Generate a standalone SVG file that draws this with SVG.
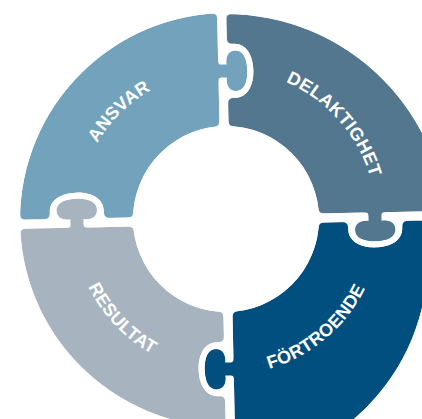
<svg xmlns="http://www.w3.org/2000/svg" xmlns:xlink="http://www.w3.org/1999/xlink" width="422" height="419" viewBox="0 0 422 419">
  <style>
    .lbl { font-family: "Liberation Sans", Arial, sans-serif; font-weight: bold; font-size: 18px; letter-spacing: 0.3px; fill: #ffffff; }
  </style>
  <defs>
    <filter id="soft" filterUnits="userSpaceOnUse" x="-30" y="-30" width="490" height="490">
      <feGaussianBlur in="SourceAlpha" stdDeviation="2.8" result="b"/>
      <feComponentTransfer in="b" result="t">
        <feFuncA type="linear" slope="6" intercept="-2.5"/>
      </feComponentTransfer>
      <feComposite in="SourceGraphic" in2="t" operator="in"/>
    </filter>
    <clipPath id="clipLeft">
      <path clip-rule="evenodd" d="M20 220 a207 207 0 1 0 414 0 a207 207 0 1 0 -414 0 Z M133 219 a93 93 0 1 0 186 0 a93 93 0 1 0 -186 0 Z"/>
    </clipPath>
    <clipPath id="clipTR">
      <path clip-rule="evenodd" d="M5 235 a221 221 0 1 0 442 0 a221 221 0 1 0 -442 0 Z M133 219 a93 93 0 1 0 186 0 a93 93 0 1 0 -186 0 Z"/>
    </clipPath>
    <clipPath id="clipBR">
      <path clip-rule="evenodd" d="M4 258 a212 212 0 1 0 424 0 a212 212 0 1 0 -424 0 Z M133 219 a93 93 0 1 0 186 0 a93 93 0 1 0 -186 0 Z"/>
    </clipPath>
    <path id="piece" d="M-4.5 -40 L-4.5 -139.5 A3 3 0 0 1 -1.5 -142.5 L4 -142.5 C2.5 -135 5 -128.5 13 -128.5 C21 -128.5 24.5 -137 24.5 -149 C24.5 -161 21 -169.5 13 -169.5 C5 -169.5 2.5 -163 4 -155.5 L-1.5 -155.5 A3 3 0 0 1 -4.5 -158.5 L-4.5 -260 L-260 -260 L-260 -4.5 L-179 -4.5 A3 3 0 0 0 -176 -7.5 L-176 -12 C-176 -24 -164 -30.5 -149 -30.5 C-134 -30.5 -122 -24 -122 -12 L-122 -7.5 A3 3 0 0 0 -119 -4.5 L-4.5 -4.5 Z"/>
    <path id="arcAnsvar" d="M80.8 257.8 A150 150 0 0 1 265.8 75.4"/>
    <path id="arcDelak" d="M196 72.6 A150.4 150.4 0 0 1 368.6 267.7"/>
    <path id="arcResultat" d="M79.3 176.5 A153 153 0 0 0 261.7 368.8"/>
    <path id="arcFortroende" d="M173.2 365.7 A155 155 0 0 0 378.6 192.8"/>
  </defs>
  <rect width="422" height="419" fill="#ffffff"/>
  <g id="connectors"/>
  <g id="ansvar">
    <g filter="url(#soft)">
      <g clip-path="url(#clipLeft)">
        <use xlink:href="#piece" href="#piece" transform="translate(226 220) rotate(-1.2)" fill="#73A2BC"/>
      </g>
    </g>
    <text class="lbl"><textPath xlink:href="#arcAnsvar" href="#arcAnsvar" startOffset="50%" text-anchor="middle">ANSVAR</textPath></text>
  </g>
  <g id="delaktighet">
    <g filter="url(#soft)">
      <g clip-path="url(#clipTR)">
        <use xlink:href="#piece" href="#piece" transform="translate(226 220) rotate(88.8)" fill="#52778F"/>
      </g>
    </g>
    <text class="lbl"><textPath xlink:href="#arcDelak" href="#arcDelak" startOffset="50%" text-anchor="middle">DELAKTIGHET</textPath></text>
  </g>
  <g id="fortroende">
    <g filter="url(#soft)">
      <g clip-path="url(#clipBR)">
        <use xlink:href="#piece" href="#piece" transform="translate(226 220) rotate(178.8)" fill="#02507F"/>
      </g>
    </g>
    <text class="lbl"><textPath xlink:href="#arcFortroende" href="#arcFortroende" startOffset="50%" text-anchor="middle">FÖRTROENDE</textPath></text>
  </g>
  <g id="resultat">
    <g filter="url(#soft)">
      <g clip-path="url(#clipLeft)">
        <use xlink:href="#piece" href="#piece" transform="translate(226 220) rotate(268.8)" fill="#A7B4C0"/>
      </g>
    </g>
    <text class="lbl"><textPath xlink:href="#arcResultat" href="#arcResultat" startOffset="50%" text-anchor="middle">RESULTAT</textPath></text>
  </g>
</svg>
